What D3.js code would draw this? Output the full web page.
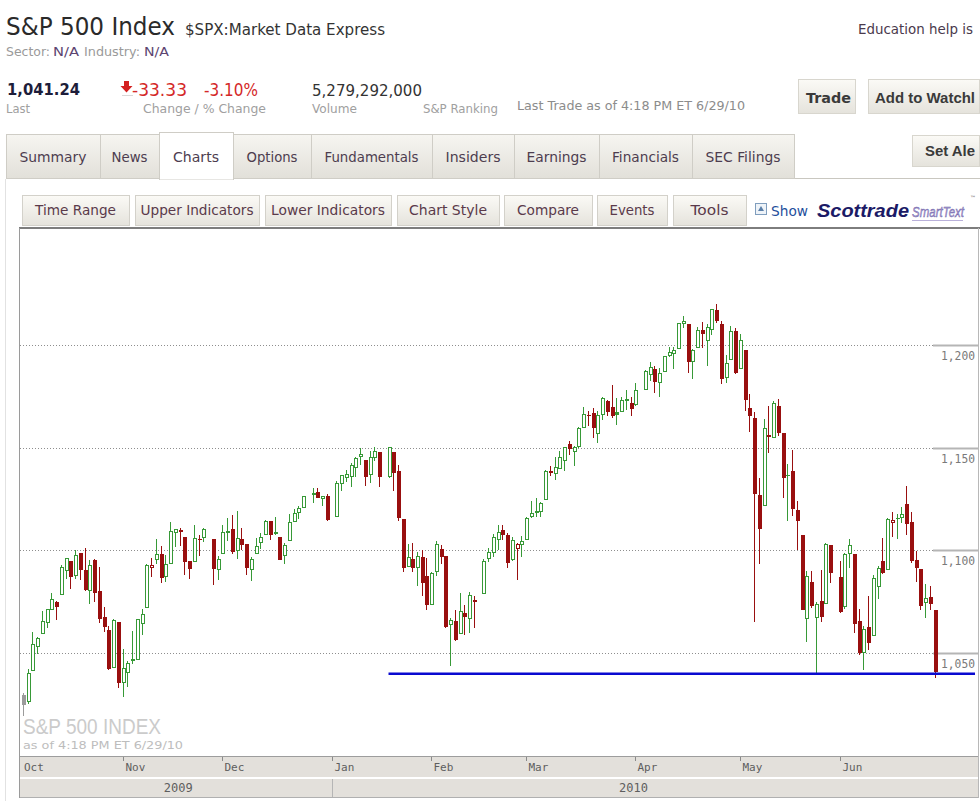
<!DOCTYPE html>
<html><head><meta charset="utf-8">
<script src="https://cdn.jsdelivr.net/npm/d3@7"></script>
<style>html,body{margin:0;padding:0;background:#fff;overflow:hidden}</style>
</head><body><svg id="c" width="980" height="801"></svg>
<script>
// ---------------- DATA ----------------
const dates = [
"2009-10-02","2009-10-05","2009-10-06","2009-10-07","2009-10-08","2009-10-09","2009-10-12","2009-10-13","2009-10-14","2009-10-15","2009-10-16","2009-10-19","2009-10-20","2009-10-21","2009-10-22","2009-10-23","2009-10-26","2009-10-27","2009-10-28","2009-10-29","2009-10-30",
"2009-11-02","2009-11-03","2009-11-04","2009-11-05","2009-11-06","2009-11-09","2009-11-10","2009-11-11","2009-11-12","2009-11-13","2009-11-16","2009-11-17","2009-11-18","2009-11-19","2009-11-20","2009-11-23","2009-11-24","2009-11-25","2009-11-27","2009-11-30",
"2009-12-01","2009-12-02","2009-12-03","2009-12-04","2009-12-07","2009-12-08","2009-12-09","2009-12-10","2009-12-11","2009-12-14","2009-12-15","2009-12-16","2009-12-17","2009-12-18","2009-12-21","2009-12-22","2009-12-23","2009-12-24","2009-12-28","2009-12-29","2009-12-30","2009-12-31",
"2010-01-04","2010-01-05","2010-01-06","2010-01-07","2010-01-08","2010-01-11","2010-01-12","2010-01-13","2010-01-14","2010-01-15","2010-01-19","2010-01-20","2010-01-21","2010-01-22","2010-01-25","2010-01-26","2010-01-27","2010-01-28","2010-01-29",
"2010-02-01","2010-02-02","2010-02-03","2010-02-04","2010-02-05","2010-02-08","2010-02-09","2010-02-10","2010-02-11","2010-02-12","2010-02-16","2010-02-17","2010-02-18","2010-02-19","2010-02-22","2010-02-23","2010-02-24","2010-02-25","2010-02-26",
"2010-03-01","2010-03-02","2010-03-03","2010-03-04","2010-03-05","2010-03-08","2010-03-09","2010-03-10","2010-03-11","2010-03-12","2010-03-15","2010-03-16","2010-03-17","2010-03-18","2010-03-19","2010-03-22","2010-03-23","2010-03-24","2010-03-25","2010-03-26","2010-03-29","2010-03-30","2010-03-31",
"2010-04-01","2010-04-05","2010-04-06","2010-04-07","2010-04-08","2010-04-09","2010-04-12","2010-04-13","2010-04-14","2010-04-15","2010-04-16","2010-04-19","2010-04-20","2010-04-21","2010-04-22","2010-04-23","2010-04-26","2010-04-27","2010-04-28","2010-04-29","2010-04-30",
"2010-05-03","2010-05-04","2010-05-05","2010-05-06","2010-05-07","2010-05-10","2010-05-11","2010-05-12","2010-05-13","2010-05-14","2010-05-17","2010-05-18","2010-05-19","2010-05-20","2010-05-21","2010-05-24","2010-05-25","2010-05-26","2010-05-27","2010-05-28",
"2010-06-01","2010-06-02","2010-06-03","2010-06-04","2010-06-07","2010-06-08","2010-06-09","2010-06-10","2010-06-11","2010-06-14","2010-06-15","2010-06-16","2010-06-17","2010-06-18","2010-06-21","2010-06-22","2010-06-23","2010-06-24","2010-06-25","2010-06-28","2010-06-29"];

const open = [
1029.71,1026.87,1042.02,1053.65,1060.03,1065.28,1071.63,1074.96,1078.68,1090.36,1094.67,1088.22,1098.64,1090.36,1080.96,1095.62,1080.36,1067.54,1061.51,1043.19,1065.41,
1036.18,1040.92,1047.30,1047.30,1064.95,1072.31,1091.86,1096.04,1098.31,1087.59,1094.13,1109.22,1109.44,1106.44,1094.66,1094.86,1105.83,1106.49,1105.47,1091.07,
1098.89,1109.03,1110.59,1100.43,1105.52,1103.04,1091.07,1098.69,1103.96,1107.84,1114.11,1108.61,1106.36,1097.86,1105.31,1114.51,1118.84,1121.08,1127.53,1128.55,1125.53,1126.60,
1116.56,1132.66,1135.71,1136.27,1140.52,1145.96,1143.81,1137.31,1145.68,1147.72,1136.03,1147.95,1138.68,1115.49,1092.40,1095.80,1091.94,1096.93,1087.61,
1073.89,1090.05,1100.67,1097.25,1064.12,1065.51,1060.06,1069.68,1067.10,1075.95,1079.13,1096.14,1099.03,1105.49,1110.00,1107.49,1095.89,1101.24,1103.10,
1105.36,1117.01,1119.36,1119.12,1125.12,1138.40,1137.56,1140.22,1143.96,1151.71,1148.53,1150.83,1159.94,1166.13,1166.68,1157.25,1166.47,1172.70,1170.03,1167.58,1167.71,1173.75,1171.75,
1171.23,1178.71,1186.01,1188.23,1181.75,1187.47,1194.94,1195.94,1198.69,1210.77,1210.17,1192.06,1199.04,1207.16,1202.52,1207.87,1217.07,1209.92,1184.59,1193.30,1206.77,
1188.58,1197.50,1169.24,1164.38,1127.04,1122.27,1156.39,1155.43,1170.04,1157.19,1136.52,1138.78,1119.57,1107.34,1067.26,1084.78,1067.42,1075.51,1074.27,1102.59,
1087.30,1073.01,1098.82,1098.43,1065.84,1050.81,1062.75,1058.77,1082.65,1095.00,1091.21,1114.02,1115.98,1116.16,1122.79,1113.90,1095.57,1090.93,1075.10,1077.50,1071.10];

const high = [
1030.60,1042.58,1060.55,1058.02,1070.67,1071.51,1079.46,1075.30,1093.17,1096.56,1094.67,1100.17,1098.64,1101.36,1095.21,1095.83,1091.75,1072.48,1063.26,1066.83,1065.41,
1052.18,1046.36,1061.00,1066.65,1071.48,1093.19,1096.42,1105.37,1101.97,1097.79,1113.69,1110.52,1111.10,1106.44,1094.66,1112.38,1107.56,1111.18,1105.47,1097.24,
1112.28,1115.58,1117.28,1119.13,1110.72,1103.04,1097.04,1106.25,1108.50,1114.76,1114.11,1116.21,1106.36,1103.74,1117.68,1120.27,1121.58,1126.48,1130.38,1130.38,1126.42,1127.64,
1133.87,1136.63,1139.19,1142.46,1145.39,1149.74,1143.81,1148.40,1150.41,1147.77,1150.45,1147.95,1141.58,1115.49,1102.97,1103.69,1099.51,1100.22,1096.45,
1089.38,1104.73,1102.72,1097.25,1067.13,1071.20,1079.28,1073.67,1080.04,1077.81,1095.67,1101.03,1108.24,1112.42,1112.29,1108.58,1106.42,1103.50,1107.24,
1116.11,1123.96,1125.64,1123.73,1139.38,1141.05,1145.37,1148.26,1150.24,1153.41,1150.98,1160.28,1169.84,1167.77,1169.20,1167.82,1174.72,1173.04,1180.69,1173.93,1174.85,1177.83,1174.56,
1181.43,1187.73,1191.80,1189.60,1188.55,1194.66,1199.20,1199.04,1210.65,1213.92,1210.17,1197.87,1208.58,1210.99,1210.27,1217.28,1219.80,1211.38,1195.05,1209.36,1207.99,
1205.13,1197.50,1175.95,1167.58,1135.13,1163.85,1170.48,1172.87,1173.57,1157.19,1141.88,1148.66,1124.27,1107.34,1090.16,1089.95,1074.75,1090.75,1103.52,1102.59,
1094.77,1098.56,1105.67,1098.43,1071.36,1063.15,1077.74,1087.85,1092.25,1105.91,1115.59,1118.74,1117.72,1121.01,1131.23,1118.50,1099.64,1090.93,1083.56,1082.60,1071.10];

const low = [
1019.95,1025.92,1042.02,1050.10,1060.03,1063.00,1071.63,1066.71,1078.68,1086.41,1081.53,1086.48,1086.16,1080.77,1074.31,1075.49,1065.23,1060.62,1042.19,1043.19,1033.38,
1029.38,1033.94,1045.15,1047.30,1059.32,1072.31,1087.40,1093.81,1084.90,1085.33,1094.13,1102.19,1102.70,1088.40,1086.81,1094.86,1097.63,1104.75,1083.74,1086.25,
1098.89,1105.29,1098.74,1096.52,1100.83,1088.61,1085.89,1098.69,1101.34,1107.84,1105.35,1107.96,1095.88,1093.88,1105.31,1114.51,1116.00,1121.08,1123.51,1126.08,1121.94,1114.81,
1116.56,1129.66,1133.95,1131.32,1136.22,1142.02,1131.77,1133.18,1143.80,1131.39,1135.77,1129.25,1114.84,1090.18,1092.40,1089.86,1083.11,1078.46,1071.59,
1073.89,1087.96,1093.97,1062.78,1044.50,1056.51,1060.06,1059.34,1060.59,1062.97,1079.13,1094.72,1097.48,1100.80,1105.38,1092.18,1095.50,1086.02,1097.56,
1105.36,1116.51,1116.58,1116.66,1125.12,1136.77,1134.90,1140.09,1138.99,1146.97,1141.45,1150.35,1159.94,1161.16,1155.33,1152.88,1163.83,1166.01,1165.09,1161.48,1167.71,1168.92,1165.83,
1170.69,1178.71,1182.77,1177.25,1175.12,1187.15,1194.71,1188.82,1198.69,1208.50,1186.77,1183.68,1199.04,1198.85,1190.19,1205.10,1211.07,1181.62,1181.81,1193.30,1186.32,
1188.58,1168.12,1158.15,1065.79,1094.15,1122.27,1147.71,1155.43,1156.14,1126.14,1114.96,1117.20,1100.66,1071.58,1055.90,1072.70,1040.78,1065.59,1074.27,1084.78,
1069.89,1072.03,1091.81,1060.50,1049.86,1042.17,1052.25,1058.77,1077.12,1089.03,1091.21,1107.13,1105.87,1113.93,1108.24,1094.18,1085.31,1071.60,1067.89,1071.45,1038.38];

const close = [
1025.21,1040.46,1054.72,1057.58,1065.48,1071.49,1076.19,1073.19,1092.02,1096.56,1087.68,1097.91,1091.06,1081.40,1092.91,1079.60,1066.95,1063.41,1042.63,1066.11,1036.19,
1042.88,1045.41,1046.50,1066.63,1069.30,1093.08,1093.01,1098.51,1087.24,1093.48,1109.30,1110.32,1109.80,1094.90,1091.38,1106.24,1105.65,1110.63,1091.49,1095.63,
1108.86,1109.24,1099.92,1105.98,1103.25,1091.94,1095.95,1102.35,1106.41,1114.11,1107.93,1109.18,1096.08,1102.47,1114.05,1118.02,1120.59,1126.48,1127.78,1126.20,1126.42,1115.10,
1132.99,1136.52,1137.14,1141.69,1144.98,1146.98,1136.22,1145.68,1148.46,1136.03,1150.23,1138.04,1116.48,1091.76,1096.78,1092.17,1097.50,1084.53,1073.87,
1089.19,1103.32,1097.28,1063.11,1066.19,1056.74,1070.52,1068.13,1078.47,1075.51,1094.87,1099.51,1106.75,1109.17,1108.01,1094.60,1105.24,1102.94,1104.49,
1115.71,1118.31,1118.79,1122.97,1138.70,1138.50,1140.45,1145.61,1150.24,1149.99,1150.51,1159.46,1166.21,1165.83,1159.90,1165.81,1174.17,1167.72,1165.73,1166.59,1173.22,1173.27,1169.43,
1178.10,1187.44,1189.44,1182.45,1186.44,1194.37,1196.48,1197.30,1210.65,1211.67,1192.13,1197.52,1207.17,1205.94,1208.67,1217.28,1212.05,1183.71,1191.36,1206.78,1186.69,
1202.26,1173.60,1165.90,1128.15,1110.88,1159.73,1155.79,1171.67,1157.44,1135.68,1136.94,1120.80,1115.05,1071.59,1087.69,1073.65,1074.03,1067.95,1103.06,1089.41,
1070.71,1098.38,1102.83,1064.88,1050.47,1062.00,1055.69,1086.84,1091.60,1089.63,1115.23,1114.61,1116.04,1117.51,1113.20,1095.31,1092.04,1073.69,1076.76,1074.57,1041.24];

const priceTicks = [1050, 1100, 1150, 1200];
const priceTickLabels = ["1,050", "1,100", "1,150", "1,200"];
const monthLabels = ["Oct","Nov","Dec","Jan","Feb","Mar","Apr","May","Jun"];
const yearLabels = ["2009","2010"];
const supportLevel = 1040;
const supportStartDate = "2010-01-19";

const tabNames = ["Summary","News","Charts","Options","Fundamentals","Insiders","Earnings","Financials","SEC Filings"];
const toolNames = ["Time Range","Upper Indicators","Lower Indicators","Chart Style","Compare","Events","Tools"];

// ---------------- LAYOUT ----------------
const svg = d3.select("#c");
const FONT = "'DejaVu Sans', Verdana, sans-serif";
const SANS = "'Liberation Sans', Arial, sans-serif";
const MONO = "'DejaVu Sans Mono', monospace";
const defs = svg.append("defs");
function grad(id, c1, c2){
  const g = defs.append("linearGradient").attr("id", id).attr("x1",0).attr("x2",0).attr("y1",0).attr("y2",1);
  g.append("stop").attr("offset","0%").attr("stop-color",c1);
  g.append("stop").attr("offset","100%").attr("stop-color",c2);
}
grad("btn", "#fbfaf6", "#e5e3dc");
grad("tab", "#f6f5f1", "#e2e0d9");

function txt(x, y, s, o){
  o = o || {};
  const t = svg.append("text").attr("x", x).attr("y", y).text(s)
    .attr("font-family", o.ff || FONT).attr("font-size", o.size || 12)
    .attr("fill", o.fill || "#333");
  if (o.weight) t.attr("font-weight", o.weight);
  if (o.style) t.attr("font-style", o.style);
  if (o.anchor) t.attr("text-anchor", o.anchor);
  if (o.w) t.attr("textLength", o.w).attr("lengthAdjust", "spacingAndGlyphs");
  return t;
}

svg.append("rect").attr("width",980).attr("height",801).attr("fill","#fff");

// header
txt(6, 35, "S&P 500 Index", {size:25, fill:"#2a2a2a", w:169});
txt(185, 35, "$SPX:Market Data Express", {size:16, fill:"#333", w:200});
txt(6, 56, "Sector:", {size:12, fill:"#9a9a9a", w:44});
txt(53, 56, "N/A", {size:12, fill:"#5c4470", w:26});
txt(84, 56, "Industry:", {size:12, fill:"#9a9a9a", w:56});
txt(144, 56, "N/A", {size:12, fill:"#5c4470", w:25});

txt(7, 95, "1,041.24", {size:15, weight:"bold", fill:"#1d1d3a", w:73});
txt(6, 113, "Last", {size:12, fill:"#a0a0a0", w:24});
// down arrow
svg.append("path").attr("d","M124,81 L129,81 L129,86 L132.5,86 L126.5,92.5 L120.5,86 L124,86 Z").attr("fill","#d42020");
svg.append("line").attr("x1",122).attr("x2",133).attr("y1",95.5).attr("y2",95.5).attr("stroke","#d8d8d8");
txt(132, 96, "-33.33", {size:17, fill:"#d42828", w:55});
txt(204, 96, "-3.10%", {size:17, fill:"#d42828", w:54});
txt(143, 113, "Change / % Change", {size:12, fill:"#a0a0a0", w:123});
txt(312, 96, "5,279,292,000", {size:15, fill:"#333", w:110});
txt(312, 113, "Volume", {size:12, fill:"#a0a0a0", w:45});
txt(423, 113, "S&P Ranking", {size:12, fill:"#a0a0a0", w:75});
txt(517, 110, "Last Trade as of 4:18 PM ET 6/29/10", {size:12, fill:"#8c8c8c", w:228});
txt(858, 34, "Education help is", {size:14, fill:"#4a3a4c", w:115});

// Trade / Add to watchlist buttons (the window edge cuts them in the reference)
svg.append("rect").attr("x",798.5).attr("y",79.5).attr("width",57).attr("height",34).attr("fill","url(#btn)").attr("stroke","#d8d6ce");
txt(806, 103, "Trade", {size:14, weight:"bold", fill:"#3a3a3a", w:45});
svg.append("rect").attr("x",868.5).attr("y",79.5).attr("width",111).attr("height",34).attr("fill","url(#btn)").attr("stroke","#d8d6ce");
txt(875, 103, "Add to Watchl", {ff:SANS, size:15, weight:"bold", fill:"#3a3a3a", w:100});

// tabs
const tabEdges = [6,100,159,233,311,432,514,599,692,794];
const tabTextW = [67,36,46,51,94,55,60,67,75];
svg.append("line").attr("x1",6).attr("x2",980).attr("y1",178.5).attr("y2",178.5).attr("stroke","#c9c7c0");
tabNames.forEach((n,i)=>{
  const x0 = tabEdges[i], x1 = tabEdges[i+1];
  const active = n === "Charts";
  svg.append("rect").attr("x",x0+0.5).attr("y", active?132.5:134.5).attr("width",x1-x0).attr("height", active?47:44)
    .attr("fill", active?"#fff":"url(#tab)").attr("stroke","#cfcdc6");
  if (active) svg.append("line").attr("x1",x0+1).attr("x2",x1).attr("y1",178.5).attr("y2",178.5).attr("stroke","#fff").attr("stroke-width",2);
  txt((x0+x1)/2, 162, n, {size:14, fill:"#4d3d4f", anchor:"middle", w:tabTextW[i]});
});
svg.append("rect").attr("x",912.5).attr("y",135.5).attr("width",67).attr("height",31).attr("fill","url(#btn)").attr("stroke","#d8d6ce");
txt(925, 156, "Set Ale", {ff:SANS, size:15, weight:"bold", fill:"#3a3a3a", w:50});

// page left border
svg.append("line").attr("x1",5.5).attr("x2",5.5).attr("y1",179).attr("y2",801).attr("stroke","#e2e2e2");

// tool buttons
const toolEdges = [[22,129],[135,259],[265,391],[397,499],[504,592],[597,667],[673,746]];
const toolTextW = [81,113,114,78,62,45,38];
toolNames.forEach((n,i)=>{
  const [x0,x1] = toolEdges[i];
  svg.append("rect").attr("x",x0+0.5).attr("y",195.5).attr("width",x1-x0).attr("height",30).attr("fill","url(#btn)").attr("stroke","#d3d1ca");
  txt((x0+x1)/2, 215, n, {size:14, fill:"#5a3a4a", anchor:"middle", w:toolTextW[i]});
});
// show icon + logo
svg.append("rect").attr("x",755.5).attr("y",203.5).attr("width",11).attr("height",11).attr("fill","#eef3f8").attr("stroke","#7f9dbd");
svg.append("path").attr("d","M758,211 L761,206 L764,211 Z").attr("fill","#5a7fa8");
txt(771, 216, "Show", {size:14, fill:"#1f4f9c", w:37});
txt(817, 217, "Scottrade", {ff:SANS, size:18, weight:"bold", style:"italic", fill:"#1b1a66", w:92});
txt(912, 217, "SmartText", {ff:SANS, size:15, style:"italic", fill:"#a397cf", w:52}).attr("stroke","#6c5fa6").attr("stroke-width",0.4);
svg.append("line").attr("x1",912).attr("x2",963).attr("y1",220.5).attr("y2",220.5).attr("stroke","#b9b0da");
txt(970, 200, "™", {size:6, fill:"#555"});

// ---------------- CHART ----------------
const plotL = 20, plotR = 978, plotT = 229, plotB = 756;
svg.append("rect").attr("x",plotL).attr("y",plotT).attr("width",plotR-plotL).attr("height",plotB-plotT).attr("fill","#fff");
svg.append("line").attr("x1",19).attr("x2",980).attr("y1",228).attr("y2",228).attr("stroke","#7d7d7d").attr("stroke-width",2);
svg.append("line").attr("x1",19.5).attr("x2",19.5).attr("y1",228).attr("y2",798).attr("stroke","#9a9a9a");
svg.append("line").attr("x1",978.5).attr("x2",978.5).attr("y1",228).attr("y2",798).attr("stroke","#b8b8b8");

const fmt = d3.timeFormat("%Y-%m-%d");
const weekdays = d3.timeDay.range(new Date(2009,9,1), new Date(2010,5,30)).filter(d => d.getDay() % 6 !== 0);
const wIndex = new Map(weekdays.map((d,i)=>[fmt(d), i]));
const x = d3.scaleLinear().domain([0, weekdays.length-1]).range([18.2, 934.5]);
const y = d3.scaleLinear().domain([1000, 1257]).range([756.1, 227.7]);

// gridlines + labels
const grid = svg.append("g");
priceTicks.forEach((v,i)=>{
  const gy = Math.round(y(v)) + 0.5;
  grid.append("line").attr("x1",plotL).attr("x2",933).attr("y1",gy).attr("y2",gy)
    .attr("stroke","#8e8e8e").attr("stroke-dasharray","1,2");
  grid.append("line").attr("x1",933).attr("x2",plotR).attr("y1",gy).attr("y2",gy)
    .attr("stroke","#b5b5b5").attr("stroke-width",2);
  txt(975, gy+14, priceTickLabels[i], {ff:MONO, size:12, fill:"#7a7a7a", anchor:"end", w:34});
});

// watermark
txt(23, 734, "S&P 500 INDEX", {ff:SANS, size:22, fill:"#cbcbcb", w:138});
txt(23, 749, "as of 4:18 PM ET 6/29/10", {size:11, fill:"#bdbdbd", w:160});

// candles
defs.append("clipPath").attr("id","plotclip").append("rect").attr("x",plotL).attr("y",plotT).attr("width",plotR-plotL).attr("height",plotB-plotT);
const GREEN = "#379937", RED = "#990f0f", GREY = "#9b9b9b";
const candles = dates.map((d,i)=>({date:d, o:open[i], h:high[i], l:low[i], c:close[i], prev: i>0 ? close[i-1] : null}));
candles.forEach(k=>{
  k.cx = Math.round(x(wIndex.get(k.date)));
  k.col = k.prev === null ? GREY : (k.c >= k.prev ? GREEN : RED);
  k.hollow = k.prev !== null && k.c > k.o;
  k.top = Math.round(y(Math.max(k.o,k.c)));
  k.bot = Math.round(y(Math.min(k.o,k.c)));
});
const cg = svg.append("g").attr("clip-path","url(#plotclip)").attr("shape-rendering","crispEdges");
const g = cg.selectAll("g.c").data(candles).join("g").attr("class","c");
g.append("line").attr("x1",k=>k.cx+0.5).attr("x2",k=>k.cx+0.5)
  .attr("y1",k=>Math.round(y(k.h))).attr("y2",k=>Math.round(y(k.l))+1).attr("stroke",k=>k.col);
g.append("rect").attr("x",k=>k.cx-1).attr("width",4)
  .attr("y",k=>k.top).attr("height",k=>Math.max(k.bot-k.top+1,1)).attr("fill",k=>k.col);
g.filter(k=>k.hollow && k.bot-k.top>1).append("rect").attr("x",k=>k.cx).attr("width",2)
  .attr("y",k=>k.top+1).attr("height",k=>k.bot-k.top-1).attr("fill","#fff");

// support line
const sy = y(supportLevel);
svg.append("line").attr("x1", x(wIndex.get(supportStartDate))).attr("x2", 975)
  .attr("y1", sy).attr("y2", sy).attr("stroke","#0a0ad0").attr("stroke-width",2.5);

// ---------------- TIME AXIS ----------------
const axG = svg.append("g");
axG.append("rect").attr("x",plotL).attr("y",757).attr("width",plotR-plotL).attr("height",20).attr("fill","#e3e0db");
axG.append("rect").attr("x",plotL).attr("y",779).attr("width",plotR-plotL).attr("height",18).attr("fill","#e3e0db");
axG.append("line").attr("x1",plotL).attr("x2",plotR).attr("y1",756.5).attr("y2",756.5).attr("stroke","#9d9d9d");
axG.append("line").attr("x1",plotL).attr("x2",plotR).attr("y1",797.5).attr("y2",797.5).attr("stroke","#b0b0b0");
const monthStarts = [];
weekdays.forEach((d,i)=>{ if (i===0 || d.getMonth() !== weekdays[i-1].getMonth()) monthStarts.push(i); });
monthStarts.forEach((wi,m)=>{
  const mx = Math.round(x(wi)) + 0.5;
  if (mx > plotL) axG.append("line").attr("x1",mx).attr("x2",mx).attr("y1",757).attr("y2",761).attr("stroke","#8a8a8a");
  txt(Math.max(mx+2, 24), 771, monthLabels[m], {ff:MONO, size:11, fill:"#5e5e5e"});
});
const yearBreak = monthStarts.find(wi => weekdays[wi].getFullYear() === 2010);
const ybx = Math.round(x(yearBreak)) + 0.5;
axG.append("line").attr("x1",ybx).attr("x2",ybx).attr("y1",779).attr("y2",797).attr("stroke","#b5b5b5");
const lastX = x(wIndex.get(dates[dates.length-1]));
txt((plotL + ybx)/2 + 2, 792, yearLabels[0], {ff:MONO, size:12, fill:"#5e5e5e", anchor:"middle"});
txt((ybx + lastX)/2, 792, yearLabels[1], {ff:MONO, size:12, fill:"#5e5e5e", anchor:"middle"});
</script>
</body></html>
